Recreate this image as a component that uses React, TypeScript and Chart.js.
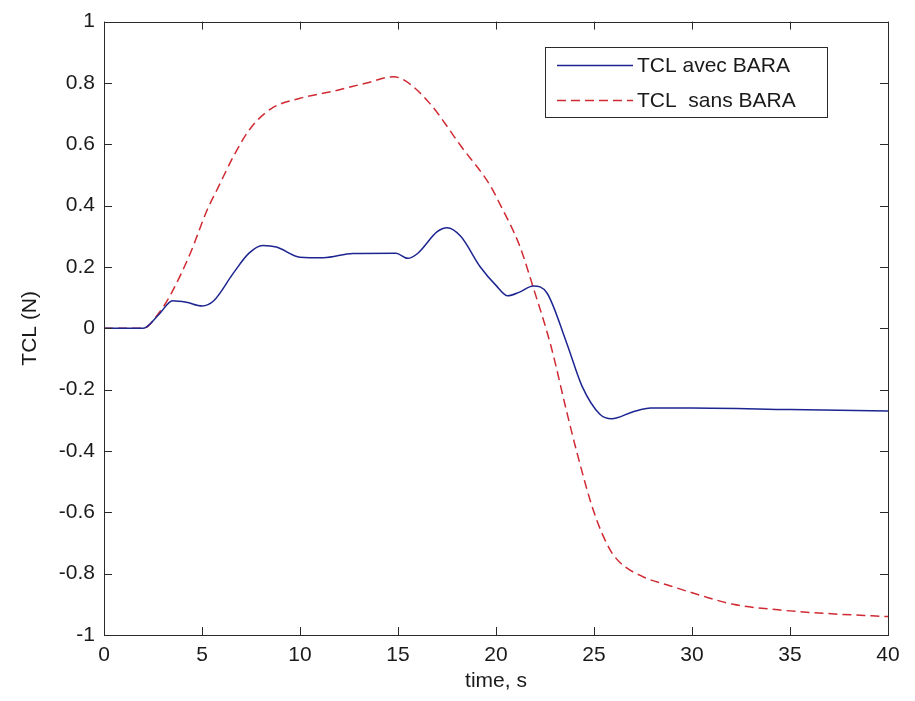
import React, { useEffect, useRef } from "react";
import { Chart, registerables } from "chart.js";

Chart.register(...registerables);

const timeAvec = [0, 2, 2.8, 3.5, 4.2, 5.0, 5.6, 6.6, 7.4, 8.1, 8.8, 10, 11.2, 12.7, 14.9, 15.5, 16.0, 17.0, 17.5, 18.2, 19.2, 20.0, 20.6, 21.2, 21.9, 22.6, 23.6, 24.4, 25.3, 25.9, 27, 27.9, 30, 35, 40];
const tclAvec = [0, 0, 0.045, 0.09, 0.085, 0.073, 0.09, 0.18, 0.245, 0.27, 0.265, 0.232, 0.23, 0.244, 0.245, 0.228, 0.244, 0.315, 0.328, 0.3, 0.2, 0.14, 0.106, 0.118, 0.138, 0.115, -0.047, -0.19, -0.28, -0.295, -0.272, -0.26, -0.26, -0.265, -0.27];

const timeSans = [0, 2, 2.8, 3.4, 4.4, 5.25, 5.8, 6.6, 7.45, 8.5, 10, 11.7, 13.4, 14.75, 15.3, 16.6, 18.2, 19.7, 20.2, 21.2, 21.9, 22.8, 23.6, 24.15, 25, 25.8, 26.35, 27.5, 28.9, 30.4, 32.1, 34.4, 36.9, 40];
const tclSans = [0, 0, 0.05, 0.11, 0.244, 0.384, 0.456, 0.56, 0.65, 0.715, 0.75, 0.773, 0.8, 0.82, 0.81, 0.735, 0.595, 0.466, 0.405, 0.27, 0.133, -0.057, -0.27, -0.41, -0.6, -0.72, -0.765, -0.81, -0.84, -0.87, -0.9, -0.918, -0.93, -0.94];

const xTicks = [0, 5, 10, 15, 20, 25, 30, 35, 40];
const yTicks = [-1, -0.8, -0.6, -0.4, -0.2, 0, 0.2, 0.4, 0.6, 0.8, 1];

const legendLabels = ["TCL avec BARA", "TCL  sans BARA"];
const xTitle = "time, s";
const yTitle = "TCL (N)";

const BLUE = "#1c2590";
const RED = "#d02a33";
const AXIS = "#2a2a2a";
const FONT = "'Liberation Sans', Arial, sans-serif";
const DASH = [9, 5];

const boxPlugin = {
  id: "matlabBox",
  afterDatasetsDraw(chart: any) {
    const { ctx, chartArea } = chart;
    const { left, right, top, bottom } = chartArea;
    const xs = chart.scales.x;
    const ys = chart.scales.y;
    ctx.save();
    ctx.strokeStyle = AXIS;
    ctx.lineWidth = 1;
    ctx.setLineDash([]);
    ctx.strokeRect(Math.round(left) + 0.5, Math.round(top) + 0.5, Math.round(right - left), Math.round(bottom - top));
    const tl = 8;
    ctx.beginPath();
    xTicks.forEach((v) => {
      const px = Math.round(xs.getPixelForValue(v)) + 0.5;
      ctx.moveTo(px, bottom);
      ctx.lineTo(px, bottom - tl);
      ctx.moveTo(px, top);
      ctx.lineTo(px, top + tl);
    });
    yTicks.forEach((v) => {
      const py = Math.round(ys.getPixelForValue(v)) + 0.5;
      ctx.moveTo(left, py);
      ctx.lineTo(left + tl, py);
      ctx.moveTo(right, py);
      ctx.lineTo(right - tl, py);
    });
    ctx.stroke();

    // legend
    const lx = 545, ly = 47, lw = 282, lh = 70;
    ctx.fillStyle = "#ffffff";
    ctx.fillRect(lx, ly, lw, lh);
    ctx.strokeStyle = AXIS;
    ctx.strokeRect(lx + 0.5, ly + 0.5, lw, lh);
    const rows = [
      { y: 65, color: BLUE, dash: [] as number[], label: legendLabels[0] },
      { y: 100, color: RED, dash: DASH, label: legendLabels[1] },
    ];
    ctx.font = `21px ${FONT}`;
    ctx.textBaseline = "middle";
    ctx.textAlign = "left";
    rows.forEach((r) => {
      ctx.beginPath();
      ctx.strokeStyle = r.color;
      ctx.lineWidth = 1.5;
      ctx.setLineDash(r.dash);
      ctx.moveTo(557, r.y + 0.5);
      ctx.lineTo(633, r.y + 0.5);
      ctx.stroke();
      ctx.setLineDash([]);
      ctx.fillStyle = "#1a1a1a";
      ctx.fillText(r.label, 637, r.y + 1);
    });
    ctx.restore();
  },
};

export default function App() {
  const ref = useRef<HTMLCanvasElement | null>(null);
  useEffect(() => {
    if (!ref.current) return;
    const chart = new Chart(ref.current, {
      type: "line",
      data: {
        datasets: [
          {
            label: legendLabels[0],
            data: timeAvec.map((t, i) => ({ x: t, y: tclAvec[i] })),
            borderColor: BLUE,
            borderWidth: 1.5,
            pointRadius: 0,
            cubicInterpolationMode: "monotone",
            fill: false,
          },
          {
            label: legendLabels[1],
            data: timeSans.map((t, i) => ({ x: t, y: tclSans[i] })),
            borderColor: RED,
            borderWidth: 1.5,
            borderDash: DASH,
            pointRadius: 0,
            cubicInterpolationMode: "monotone",
            fill: false,
          },
        ],
      },
      options: {
        animation: false,
        responsive: true,
        maintainAspectRatio: false,
        layout: { padding: { top: 16, right: 27, left: 0, bottom: 0 } },
        plugins: { legend: { display: false }, tooltip: { enabled: false } },
        scales: {
          x: {
            type: "linear",
            min: 0,
            max: 40,
            afterBuildTicks: (s: any) => {
              s.ticks = xTicks.map((v) => ({ value: v }));
            },
            afterFit: (s: any) => {
              s.height = 66;
            },
            grid: { display: false, drawTicks: false },
            border: { display: false },
            ticks: { padding: 8, color: "#1a1a1a", font: { family: FONT, size: 21 }, maxRotation: 0 },
            title: { display: true, text: xTitle, color: "#1a1a1a", font: { family: FONT, size: 21 }, padding: { top: 0, bottom: 7 } },
          },
          y: {
            type: "linear",
            min: -1,
            max: 1,
            afterBuildTicks: (s: any) => {
              s.ticks = yTicks.map((v) => ({ value: v }));
            },
            afterFit: (s: any) => {
              s.width = 104;
            },
            grid: { display: false, drawTicks: false },
            border: { display: false },
            ticks: {
              padding: 9,
              color: "#1a1a1a",
              font: { family: FONT, size: 21 },
              callback: (v: any) => String(Math.round(Number(v) * 10) / 10),
            },
            title: { display: true, text: yTitle, color: "#1a1a1a", font: { family: FONT, size: 21 }, padding: { top: 18, bottom: 0 } },
          },
        },
      },
      plugins: [boxPlugin],
    });
    return () => chart.destroy();
  }, []);
  return (
    <div style={{ position: "absolute", left: 0, top: 0, width: 915, height: 701, background: "#fff" }}>
      <canvas ref={ref} />
    </div>
  );
}
